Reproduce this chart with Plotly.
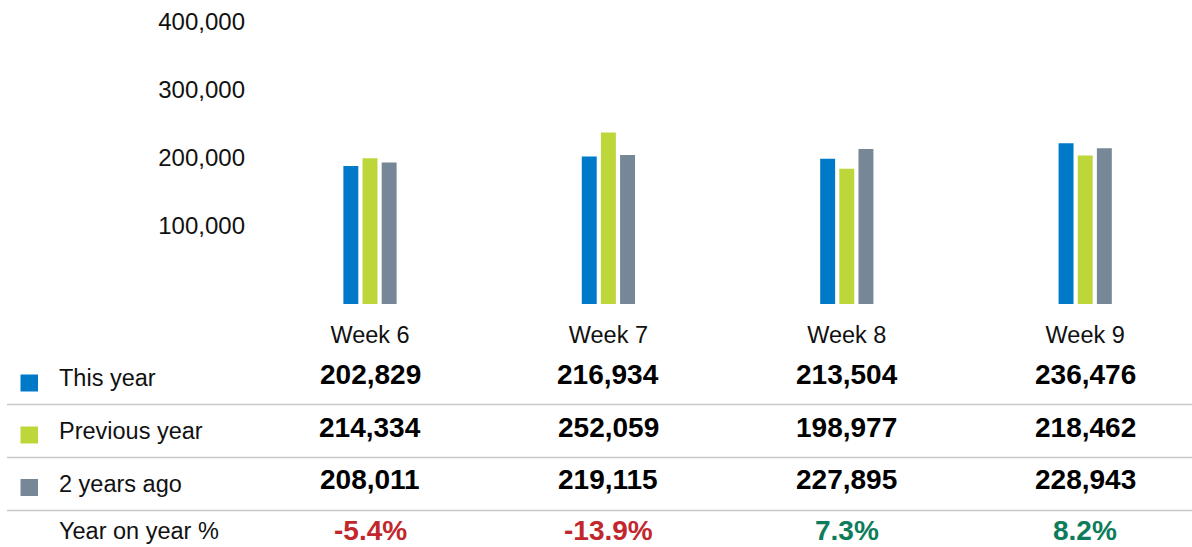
import plotly.graph_objects as go

# ---- data ----
weeks = ["Week 6", "Week 7", "Week 8", "Week 9"]
series_names = ["This year", "Previous year", "2 years ago"]
this_year = [202829, 216934, 213504, 236476]
previous_year = [214334, 252059, 198977, 218462]
two_years_ago = [208011, 219115, 227895, 228943]
yoy_pct = [-5.4, -13.9, 7.3, 8.2]
y_ticks = [100000, 200000, 300000, 400000]
y_tick_labels = ["100,000", "200,000", "300,000", "400,000"]

colors = ["#0079C8", "#BDD63A", "#768797"]
red = "#C1272D"
green = "#0E7C5A"
FONT = "Liberation Sans, Arial, sans-serif"

W, H = 1192, 547
ML, MR, MT = 250, 0, 32
MB = H - 304
PW, PH = W - ML - MR, H - MT - MB


def px_x(px):
    return (px - ML) / PW


def px_y(py):
    return (H - MB - py) / PH


fig = go.Figure()
all_series = [this_year, previous_year, two_years_ago]
for name, vals, c in zip(series_names, all_series, colors):
    fig.add_trace(go.Bar(x=weeks, y=vals, name=name, marker=dict(color=c, line=dict(width=0)),
                         showlegend=False, hoverinfo="x+y+name"))

pitch = 238.4
left_val = -(370 - ML) / pitch
right_val = (W - MR - 370) / pitch

fig.update_layout(
    width=W, height=H,
    margin=dict(l=ML, r=MR, t=MT, b=MB),
    paper_bgcolor="white", plot_bgcolor="white",
    barmode="group", bargap=0.759, bargroupgap=0.22,
    font=dict(family=FONT, color="#111111"),
    xaxis=dict(range=[left_val, right_val], showgrid=False, zeroline=False, showline=False,
               ticks="", tickfont=dict(size=23.5, family=FONT, color="#111111"),
               ticklabelstandoff=14),
    yaxis=dict(range=[0, 400000], tickvals=y_ticks, ticktext=y_tick_labels, showgrid=False,
               zeroline=False, showline=False, ticks="",
               tickfont=dict(size=24, family=FONT, color="#111111"),
               ticklabelshift=-10, ticklabelstandoff=4),
)

annotations = []
shapes = []
row_centers = [374, 427, 479]
label_centers = [378, 431, 484]
square_centers = [383, 435, 487.5]
for i, (name, vals, c) in enumerate(zip(series_names, all_series, colors)):
    annotations.append(dict(x=px_x(57), y=px_y(label_centers[i]), xref="paper", yref="paper",
                            text=name, showarrow=False, xanchor="left", yanchor="middle",
                            font=dict(size=23.5, family=FONT, color="#111111")))
    shapes.append(dict(type="rect", xref="paper", yref="paper",
                       x0=px_x(20.5), x1=px_x(38), y0=px_y(square_centers[i] + 8.5),
                       y1=px_y(square_centers[i] - 8.5), fillcolor=c, line=dict(width=0)))
    for w, v in zip(weeks, vals):
        annotations.append(dict(x=w, y=px_y(row_centers[i]), xref="x", yref="paper",
                                text=f"<b>{v:,}</b>", showarrow=False, xanchor="center",
                                yanchor="middle",
                                font=dict(size=28, family=FONT, color="#000000")))

annotations.append(dict(x=px_x(57), y=px_y(531), xref="paper", yref="paper",
                        text="Year on year %", showarrow=False, xanchor="left", yanchor="middle",
                        font=dict(size=23.5, family=FONT, color="#111111")))
for w, p in zip(weeks, yoy_pct):
    annotations.append(dict(x=w, y=px_y(530), xref="x", yref="paper",
                            text=f"<b>{p:.1f}%</b>", showarrow=False, xanchor="center",
                            yanchor="middle",
                            font=dict(size=28, family=FONT, color=red if p < 0 else green)))

for ly in [404.5, 457.5, 510.5]:
    shapes.append(dict(type="line", xref="paper", yref="paper", x0=px_x(7), x1=px_x(1192),
                       y0=px_y(ly), y1=px_y(ly), line=dict(color="#C8C8C8", width=1.5)))

fig.update_layout(annotations=annotations, shapes=shapes)
fig.write_html("out.html", config={"displayModeBar": False},
               post_script="document.body.style.margin='0';document.body.style.overflow='hidden';")
